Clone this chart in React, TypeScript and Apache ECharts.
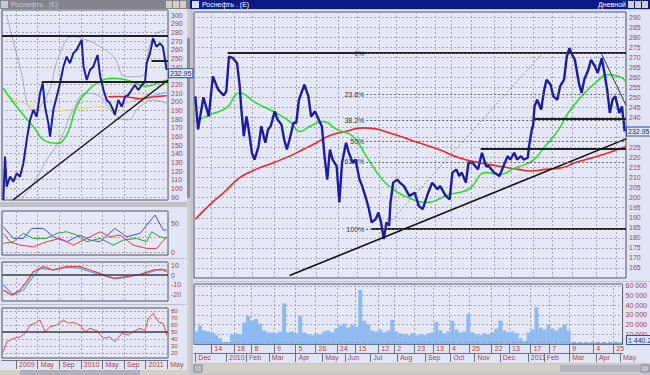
import { useEffect, useRef } from 'react';
import * as echarts from 'echarts';

// ---------- Main window (daily, x = trading-day index) ----------
const mainPrice: number[][] = [
  [1,250.5],[3,234],[7,250],[11,240.5],[14,260.4],[18,253.8],[22,251],[24,253],[26,270.3],[29,269.5],[32,267],[34,255.4],[35,245.5],[37,230.6],[39,240.5],[41,232.4],[43,222.4],[45,219],[48,225.7],[50,235.6],[53,227.4],[55,234],[57,235.6],[60,243],[62,239],[65,236.4],[67,229],[69,224],[71,229],[74,237.3],[76,237.3],[78,248.8],[82,256.3],[85,250.5],[87,240.5],[90,243],[92,239.8],[95,235.6],[97,220.7],[99,209],[101,224],[103,219],[106,215.7],[108,197.6],[110,217.4],[113,227.4],[115,222.4],[118,217.4],[120,219],[123,209],[125,205.8],[128,199.2],[130,194.3],[132,187.7],[135,189.3],[137,192.6],[139,187.7],[141,179.4],[143,187.7],[145,186],[146,197.6],[148,207.5],[151,209],[153,207.5],[156,205.8],[160,200.9],[164,202.5],[167,195.9],[170,194.3],[174,202.5],[177,207.5],[181,204.2],[183,205.8],[187,200.9],[190,199.2],[192,212.5],[195,214.1],[197,210.8],[199,212.5],[202,207.5],[204,217.4],[207,217.4],[211,214.1],[214,222.4],[217,215.7],[219,215.7],[223,212.5],[227,210.8],[229,214.1],[233,220.7],[235,219],[238,222.4],[240,219],[243,220.7],[245,219],[248,219.9],[249,225.7],[251,234],[252,236],[253,245.5],[255,248.8],[258,243.9],[260,253],[262,258.8],[265,256.3],[267,250.5],[270,248.8],[272,255.4],[275,258.8],[277,270.3],[279,274.5],[281,271.2],[283,268.7],[286,257.1],[288,252.2],[290,258.8],[293,263.7],[295,268.7],[298,265.3],[300,262.1],[303,269.5],[305,262.1],[307,253.8],[309,242.2],[311,248.8],[313,250.5],[316,242.2],[318,245.5],[320,233]
];
const mainMaFast: number[][] = [
  [1,238],[12,241.4],[24,244.7],[34,252.2],[46,247.2],[61,242.2],[71,238],[79,233],[86,235.6],[96,238],[106,234],[118,230.6],[128,220.7],[140,209],[150,203.3],[162,199.2],[172,197.6],[190,201.7],[204,204.2],[217,212.5],[227,211.6],[239,215],[251,218.2],[261,225.7],[271,234],[278,242.2],[288,250.5],[298,257.1],[308,261.2],[316,260.4],[321,257.9]
];
const mainMaSlow: number[][] = [
  [1,189.3],[12,196.7],[22,202.5],[34,210],[46,214.1],[59,217.4],[71,220.7],[81,224],[91,227.4],[101,231],[113,233.1],[125,234.8],[135,234.3],[145,232.3],[153,230.6],[167,227.4],[182,224],[197,219.9],[212,217.4],[227,215.7],[241,214.1],[251,213.3],[261,214.1],[274,215],[283,217.4],[296,219.9],[308,222.4],[321,225.5]
];
// volume, thousands, one value every 3 trading days
const volumeStep = 3;
const volumeK: number[] = [
  13,19,14,13,12,9,6,2,2,10,11,10,22,29,24,26,21,14,12,12,11,13,42,12,13,11,29,12,10,9,
  11,10,13,14,12,16,19,21,17,20,18,56,24,20,14,13,15,12,14,25,13,11,10,9,11,9,10,9,11,12,
  23,14,11,13,24,15,12,13,31,12,10,9,11,10,12,16,24,14,12,13,11,6,3,12,15,38,17,15,20,16,
  14,17,20,14
];
const lastPrice = 232.95;
const lastVolume = 1440;
const lastVolumeText = '1 440.2';

const dayTickIdx = [13,30,43,60,76,91,107,121,138,150,165,179,191,206,223,236,252,266,281,299,314];
const dayTickLabels = ['14','18','8','9','5','26','24','15','12','2','23','13','4','25','22','13','17','7','9','4','25'];
const monthTickIdx = [1,24,39,56,76,96,113,132,152,173,192,210,229,250,262,281,301,319];
const monthTickLabels = ['Dec','2010','Feb','Mar','Apr','May','Jun','Jul','Aug','Sep','Oct','Nov','Dec','2011','Feb','Mar','Apr','May'];
// 230 and 235 sit under the last-price box
const mainPriceTicks = [165,170,175,180,185,190,195,200,205,210,215,220,225,240,245,250,255,260,265,270,275,280,285,290];

// drawings on the main chart: [fromIdx, toIdx, price]
const hLevels: number[][] = [[25,321,272],[132,321,184.4],[253,321,239.3],[213,321,224.4]];
const trendUp: number[][] = [[71,161.2],[321,229.3]];
const trendDown: number[][] = [[303,271.5],[321,246]];
const fibHigh = 272;
const fibLow = 184.4;
const fibAnchor: number[][] = [[141,fibLow],[259,fibHigh]];
const fibStartIdx = 128;
const fibPct = [0, 23.6, 38.2, 50, 61.8, 100];

// ---------- Left window (x = months from Jan 2009) ----------
const leftPrice: number[][] = [
  [-2.35,86.6],[-2.04,136.6],[-1.73,102],[-1.11,113.5],[-0.49,107.8],[0.12,117.4],[0.74,113.5],[1.36,129],[1.98,155.8],[2.59,178.9],[3.21,190.4],[3.83,182.7],[4.44,209.7],[4.94,221.2],[5.37,194.2],[5.99,175],[6.3,159.6],[6.91,190.4],[7.53,205.8],[8.15,221.2],[8.77,240.4],[9.38,252],[10,244.3],[10.6,255.8],[11.2,259.6],[11.85,267.4],[12.16,271.2],[12.5,240.4],[13.1,225],[13.7,236.6],[14.3,240.4],[15.1,253.9],[15.6,228.8],[16.2,213.5],[16.8,202],[17.4,198.1],[18,190.4],[18.3,184.7],[18.95,202],[19.6,194.2],[20.2,205.8],[20.8,207.7],[21.4,213.5],[22,219.3],[22.65,213.5],[23.3,219.3],[23.9,223.1],[24.2,244.3],[24.8,255.8],[25.4,273.1],[26,263.4],[26.7,267.4],[27.2,263.4],[27.6,248.1],[27.9,236.6]
];
const leftMaGreen: number[][] = [[-2.35,215.5],[0.12,194.2],[3.21,171.2],[5.68,153.9],[7.53,152],[8.77,155.8],[10,171.2],[11.2,194.2],[13.1,211.5],[15.56,223.1],[18.02,227],[20.49,225],[22.96,219.3],[24.2,218],[26.05,221.2],[27.9,225]];
const leftMaYellow: number[][] = [[-2.35,209.7],[0.12,202],[3.21,194.2],[6.3,188.5],[9.38,190.4],[12.5,192.4],[15.56,194.2],[17.4,192.4],[20.49,198],[23,204],[25.4,212],[27.9,221]];
const leftMaRed: number[][] = [[17.1,205.8],[19.26,206],[21.7,204.5],[23,203.5],[25.4,205.5],[27.9,207]];
const leftMaBlue: number[][] = [[21.7,202],[24.2,205],[26.7,209],[27.9,211.5]];
const leftBandUp: number[][] = [[-1.73,300],[0.74,240.4],[3.21,190.4],[5.68,205.8],[8.15,255.8],[10.6,275],[13.1,271.2],[15.56,263.4],[18.02,252],[20.49,228.8],[22.96,229],[25.43,275],[27.9,282.7]];
const leftBandLow: number[][] = [[0.74,86.6],[3.21,105.9],[5.68,132.8],[8.15,155.8],[10.6,190.4],[13.1,209.7],[15.56,205.8],[18.02,186.6],[20.49,178.9],[22.96,194.2],[25.43,202],[27.9,198.1]];
const leftHLevels: number[][] = [[-2.6,28.15,275.8],[4.75,28.15,222.7],[25.1,28.15,247]];
const leftTrend: number[][] = [[-0.56,86.6],[28.15,225]];
const leftPriceTicks = [90,100,110,120,130,140,150,160,170,180,190,200,210,220,240,250,260,270,280,290,300];
const leftMonthTicks = [0,4,8,12,16,20,24,28];
const leftMonthLabels = ['2009','May','Sep','2010','May','Sep','2011','May'];

const dmiBlue: number[][] = [[-2.35,43.6],[-0.49,23.6],[1.36,23.6],[2.9,40.8],[5.06,40.8],[6.91,26.4],[9.38,17.8],[11.85,29.3],[13.7,20.7],[15.56,17.8],[18.33,40.8],[20.49,26.4],[22.96,32.2],[25.74,63.8],[27.28,37.9],[27.9,37.9]];
const dmiGreen: number[][] = [[-2.35,15],[-0.49,17.8],[1.36,32.2],[3.21,23.6],[5.68,23.6],[7.53,32.2],[9.38,35],[11.2,29.3],[13.1,17.8],[15.56,23.6],[18.02,12],[19.88,20.7],[22.35,23.6],[24.2,17.8],[25.12,35],[26.67,26.4],[27.9,23.6]];
const dmiRed: number[][] = [[-2.35,32],[-1.11,17.8],[0.74,12],[3.21,9],[5.68,17.8],[8.15,23.6],[10.6,12],[13.1,23.6],[15.56,35],[17.4,26.4],[19.26,29.3],[21.73,12],[24.2,6.3],[26.05,6.3],[27.9,26.4]];
const macdRed: number[][] = [[-2.35,-15.5],[-0.8,-20.6],[0.74,-15.5],[1.98,-6.9],[3.21,3.4],[5.06,8.6],[6.91,5.2],[9.38,8.6],[11.85,8.6],[13.7,5.2],[15.56,1.7],[18.02,-3.4],[20.49,-1.7],[22.96,0.7],[25.43,5.2],[27.28,5.2],[27.9,3.4]];
const macdBlue: number[][] = [[-2.35,-10.3],[-0.49,-20.6],[1.36,-15.5],[2.9,-3.4],[4.44,6.9],[6.91,5.2],[9.38,7.8],[11.85,6.9],[14.32,2.5],[16.79,-1.7],[18.64,-4.1],[21.73,-1],[24.2,1.7],[26.67,6.2],[27.9,5.2]];
const rsiRed: number[][] = [[-2.35,21.9],[-1.73,36],[-0.49,41],[0.74,43],[1.67,48],[2.59,60],[3.52,62.4],[4.44,67],[5.37,50.4],[6.3,57.6],[7.53,60],[8.77,67],[9.69,62.4],[10.6,64],[11.85,60],[12.78,50.4],[13.7,55.3],[14.94,52],[16.17,41],[17.4,43],[18.33,36],[19.57,48],[20.8,46],[21.73,50.4],[22.96,55.3],[23.89,52],[24.5,69.6],[25.43,76.7],[26.36,64.7],[27.28,62],[27.9,45.7]];
const rsiTicks = [20, 30, 40, 50, 60, 70, 80];

const FONT = 'Liberation Sans, Arial, sans-serif';
const TXT = '#a84444';
const LIGHT = '#e2e5f6';
const PANEL = '#e6e8f8';
const GRIDLINE = { show: true, lineStyle: { color: '#a2a4bc', type: [2, 2] as any, width: 1 } };

const lookup = (vals: number[], labels: string[]) => (v: number) => {
  const i = vals.indexOf(v);
  return i >= 0 ? labels[i] : '';
};

const rect = (x: number, y: number, w: number, h: number, fill: string, stroke?: string) => ({
  type: 'rect', silent: true, z: -10,
  shape: { x, y, width: w, height: h },
  style: { fill, stroke: stroke || 'none', lineWidth: stroke ? 1 : 0 },
});
const txt = (x: number, y: number, text: string, fill: string, align = 'left') => ({
  type: 'text', silent: true, z: 10, x, y,
  style: { text, fill, font: `7px ${FONT}`, textAlign: align, textVerticalAlign: 'middle' },
});
const valueBox = (x: number, y: number, text: string) => ({
  type: 'text', silent: true, z: 50, x, y,
  style: {
    text, fill: '#203070', font: `7px ${FONT}`, textAlign: 'left', textVerticalAlign: 'middle',
    backgroundColor: '#dbe4fb', borderColor: '#3050a0', borderWidth: 1, padding: [1, 1, 0, 1],
  },
});

const seg = (a: number[], b: number[], color: string, width: number, type: any = 'solid') => [
  { coord: a, lineStyle: { color, width, type } },
  { coord: b },
];

function buildOption(): any {
  const mainLines: any[] = [
    ...hLevels.map(h => seg([h[0], h[2]], [h[1], h[2]], '#202020', 2)),
    seg(trendUp[0], trendUp[1], '#101010', 1.6),
    seg(trendDown[0], trendDown[1], '#303030', 1),
    seg(fibAnchor[0], fibAnchor[1], '#8a8aa0', 1, [2, 2]),
    ...fibPct.map(p => {
      const lvl = fibHigh - (fibHigh - fibLow) * p / 100;
      const s = seg([fibStartIdx, lvl], [321, lvl], '#606070', 1, [2, 2]);
      (s[0] as any).label = { show: true, position: 'start', distance: 2, formatter: `${p}%`, fontSize: 7, color: '#303040', fontFamily: FONT };
      return s;
    }),
  ];
  const leftLines: any[] = [
    ...leftHLevels.map(h => seg([h[0], h[2]], [h[1], h[2]], '#202020', 2)),
    seg(leftTrend[0], leftTrend[1], '#101010', 1.4),
  ];

  const yLabel = { fontSize: 7, color: TXT, fontFamily: FONT, margin: 3 };
  const xLabel = { align: 'left', padding: [0, 0, 0, 3], margin: 1, fontSize: 7, color: TXT, fontFamily: FONT };
  const xHidden = (gridIndex: number, min: number, max: number, ticks: number[]) => ({
    type: 'value', gridIndex, min, max,
    axisLine: { show: false }, axisLabel: { show: false },
    axisTick: { show: false, customValues: ticks },
    splitLine: GRIDLINE,
  });
  const line = (data: number[][], xi: number, yi: number, color: string, width: number, smooth = false, z = 2) => ({
    type: 'line', xAxisIndex: xi, yAxisIndex: yi, data, showSymbol: false, smooth,
    lineStyle: { color, width }, z, silent: true,
  });

  return {
    animation: false,
    backgroundColor: '#bfc0c8',
    grid: [
      { left: 194, top: 12, width: 432, height: 266, show: true, backgroundColor: PANEL, borderColor: '#505058', borderWidth: 1 },
      { left: 194, top: 284, width: 432, height: 60, show: true, backgroundColor: PANEL, borderColor: '#505058', borderWidth: 1 },
      { left: 2, top: 10, width: 166, height: 190, show: true, backgroundColor: PANEL, borderColor: '#505058', borderWidth: 1 },
      { left: 2, top: 211, width: 166, height: 44, show: true, backgroundColor: PANEL, borderColor: '#505058', borderWidth: 1 },
      { left: 2, top: 262, width: 166, height: 39, show: true, backgroundColor: PANEL, borderColor: '#505058', borderWidth: 1 },
      { left: 2, top: 308, width: 166, height: 50, show: true, backgroundColor: PANEL, borderColor: '#505058', borderWidth: 1 },
    ],
    xAxis: [
      xHidden(0, 0, 321, dayTickIdx),
      {
        type: 'value', gridIndex: 1, min: 0, max: 321, position: 'bottom',
        axisLine: { show: true, lineStyle: { color: '#707078' } },
        axisTick: { show: true, customValues: dayTickIdx, length: 9, lineStyle: { color: '#707078' } },
        axisLabel: { ...xLabel, customValues: dayTickIdx, formatter: lookup(dayTickIdx, dayTickLabels) },
        splitLine: GRIDLINE,
      },
      {
        type: 'value', gridIndex: 1, min: 0, max: 321, position: 'bottom', offset: 9,
        axisLine: { show: true, lineStyle: { color: '#707078' } },
        axisTick: { show: true, customValues: monthTickIdx, length: 9, lineStyle: { color: '#707078' } },
        axisLabel: { ...xLabel, customValues: monthTickIdx, formatter: lookup(monthTickIdx, monthTickLabels) },
        splitLine: { show: false },
      },
      xHidden(2, -2.6, 28.15, leftMonthTicks),
      xHidden(3, -2.6, 28.15, leftMonthTicks),
      xHidden(4, -2.6, 28.15, leftMonthTicks),
      {
        type: 'value', gridIndex: 5, min: -2.6, max: 28.15, position: 'bottom', offset: 2,
        axisLine: { show: true, lineStyle: { color: '#707078' } },
        axisTick: { show: true, customValues: leftMonthTicks, length: 9, lineStyle: { color: '#707078' } },
        axisLabel: { ...xLabel, customValues: leftMonthTicks, formatter: lookup(leftMonthTicks, leftMonthLabels) },
        splitLine: GRIDLINE,
      },
    ],
    yAxis: [
      {
        type: 'value', gridIndex: 0, position: 'right', min: 160, max: 292.5, interval: 5,
        axisLine: { show: false }, axisTick: { show: false },
        axisLabel: { ...yLabel, customValues: mainPriceTicks }, splitLine: GRIDLINE,
      },
      {
        type: 'value', gridIndex: 1, position: 'right', min: 0, max: 62000, interval: 10000,
        axisLine: { show: false }, axisTick: { show: false },
        axisLabel: { ...yLabel, formatter: (v: number) => (v === 0 ? '' : `${v / 1000} 000`) }, splitLine: GRIDLINE,
      },
      {
        type: 'value', gridIndex: 2, position: 'right', min: 86.6, max: 305.8,
        axisLine: { show: false }, axisTick: { show: false, customValues: leftPriceTicks },
        axisLabel: { ...yLabel, customValues: leftPriceTicks }, splitLine: GRIDLINE,
      },
      {
        type: 'value', gridIndex: 3, position: 'right', min: -5, max: 70.7,
        axisLine: { show: false }, axisTick: { show: false, customValues: [0, 25, 50] },
        axisLabel: { ...yLabel, customValues: [0, 50] }, splitLine: GRIDLINE,
      },
      {
        type: 'value', gridIndex: 4, position: 'right', min: -26.8, max: 13.4,
        axisLine: { show: false }, axisTick: { show: false, customValues: [-20, -10, 0, 10] },
        axisLabel: { ...yLabel, customValues: [-20, -10, 0, 10] }, splitLine: GRIDLINE,
      },
      {
        type: 'value', gridIndex: 5, position: 'right', min: 12.9, max: 84.3,
        axisLine: { show: false }, axisTick: { show: false, customValues: rsiTicks },
        axisLabel: { ...yLabel, fontSize: 6, hideOverlap: false, customValues: rsiTicks }, splitLine: GRIDLINE,
      },
    ],
    series: [
      line(mainMaSlow, 0, 0, '#f02424', 1.6, true),
      line(mainMaFast, 0, 0, '#22dd22', 1.5, true),
      {
        ...line(mainPrice, 0, 0, '#1c1ca0', 2.4, false, 3),
        markLine: { silent: true, symbol: ['none', 'none'], label: { show: false }, data: mainLines },
      },
      {
        type: 'bar', xAxisIndex: 1, yAxisIndex: 1, barWidth: 4, silent: true,
        data: volumeK.map((v, i) => [i * volumeStep + 1.5, v * 1000]),
        itemStyle: { color: '#8cbaf2' },
        markLine: {
          silent: true, symbol: ['none', 'none'], label: { show: false },
          data: [{ yAxis: lastVolume, lineStyle: { color: '#7aa8e8', width: 1 } }],
        },
      },
      line(leftBandUp, 3, 2, '#9a9aa8', 0.8, true),
      line(leftBandLow, 3, 2, '#9a9aa8', 0.8, true),
      line(leftMaYellow, 3, 2, '#e8dc60', 1, true),
      line(leftMaBlue, 3, 2, '#6aa8f0', 1, true),
      line(leftMaRed, 3, 2, '#f02424', 1.5, true),
      line(leftMaGreen, 3, 2, '#22dd22', 1.5, true),
      {
        ...line(leftPrice, 3, 2, '#1c1ca0', 2, false, 3),
        markLine: { silent: true, symbol: ['none', 'none'], label: { show: false }, data: leftLines },
      },
      line(dmiBlue, 4, 3, '#4848f0', 1),
      line(dmiGreen, 4, 3, '#28a028', 1),
      line(dmiRed, 4, 3, '#f03838', 1),
      {
        ...line(macdBlue, 5, 4, '#50a8f0', 1.2),
        markLine: { silent: true, symbol: ['none', 'none'], label: { show: false }, data: [{ yAxis: 0, lineStyle: { color: '#404048', width: 1.5, type: 'solid' } }] },
      },
      line(macdRed, 5, 4, '#f03c3c', 1.2),
      {
        ...line(rsiRed, 6, 5, '#f04848', 1),
        markLine: { silent: true, symbol: ['none', 'none'], label: { show: false }, data: [{ yAxis: 50, lineStyle: { color: '#404048', width: 1.5, type: 'solid' } }] },
      },
    ],
    graphic: [
      // left window
      rect(0, 9, 188, 193, LIGHT),
      rect(0, 207, 188, 51, LIGHT),
      rect(0, 259, 188, 45, LIGHT),
      rect(0, 305, 188, 54, LIGHT),
      rect(0, 359, 188, 11, LIGHT),
      rect(187, 9, 5, 361, '#d4d0c8'),
      rect(187, 38, 5, 160, '#8e8e98'),
      rect(0, 370, 192, 5, '#d4d0c8'),
      rect(20, 370, 120, 5, '#b0b0b8'),
      rect(0, 0, 190, 9, '#84848c'),
      rect(1, 1, 7, 7, '#c8c8d0'),
      txt(11, 4.5, 'Роснефть . (Е)', '#c8c8d0'),
      rect(166, 1, 6, 7, '#d4d0c8'),
      rect(173, 1, 6, 7, '#d4d0c8'),
      rect(180, 1, 6, 7, '#d4d0c8'),
      // main window
      rect(190, 0, 460, 375, '#c4c4cc'),
      rect(193, 10, 457, 271, LIGHT),
      rect(193, 282, 457, 63, LIGHT),
      rect(193, 345, 457, 18, LIGHT),
      rect(193, 364, 457, 9, '#d4d0c8'),
      rect(194, 365, 8, 7, '#c0c0c8', '#808088'),
      rect(560, 365, 80, 7, '#b4b4bc'),
      rect(641, 365, 8, 7, '#c0c0c8', '#808088'),
      rect(190, 0, 460, 9, '#0c1a86'),
      rect(192, 1, 7, 7, '#d8dcf0'),
      txt(202, 4.5, 'Роснефть . (Е)', '#ffffff'),
      txt(626, 4.5, 'Дневной', '#ffffff', 'right'),
      rect(628, 1, 6, 7, '#d4d0c8'),
      rect(635, 1, 6, 7, '#d4d0c8'),
      rect(642, 1, 6, 7, '#d4d0c8'),
    ],
  };
}

export default function App() {
  const ref = useRef<HTMLDivElement>(null);
  useEffect(() => {
    const chart = echarts.init(ref.current!, undefined, { renderer: 'svg', width: 650, height: 375 });
    const option = buildOption();
    chart.setOption(option);
    // value boxes on the right axes, positioned through the axes' own scales
    const yMain = chart.convertToPixel({ yAxisIndex: 0 } as any, lastPrice) as number;
    const yLeft = chart.convertToPixel({ yAxisIndex: 2 } as any, lastPrice) as number;
    const yVol = chart.convertToPixel({ yAxisIndex: 1 } as any, lastVolume) as number;
    option.graphic.push(
      valueBox(627, yMain, lastPrice.toFixed(2)),
      valueBox(169, yLeft, lastPrice.toFixed(2)),
      valueBox(627, Math.min(yVol, 340), lastVolumeText),
    );
    chart.setOption(option, true);
    return () => chart.dispose();
  }, []);
  return <div ref={ref} style={{ position: 'fixed', left: 0, top: 0, width: 650, height: 375 }} />;
}
